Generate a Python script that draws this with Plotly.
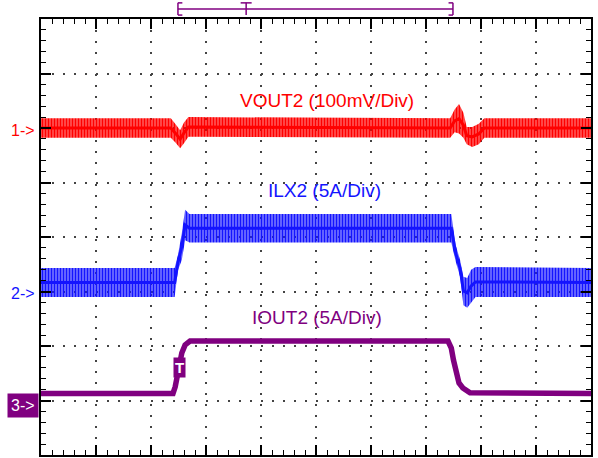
import plotly.graph_objects as go

# Screen units: 10 horizontal divisions, 8 vertical divisions
X_DIVS = 10
Y_DIVS = 8

RED = "#ff0000"
BLUE = "#1414ff"
PURPLE = "#800080"

# VOUT2 (100mV/Div): ripple envelope, in divisions
vout_t = [0, 2.36, 2.44, 2.53, 2.60, 2.68, 7.44, 7.52, 7.60, 7.68, 7.74, 7.84, 7.96, 8.06, 10]
vout_hi = [6.18, 6.18, 6.08, 5.96, 6.10, 6.20, 6.18, 6.34, 6.44, 6.28, 6.02, 6.02, 6.08, 6.18, 6.18]
vout_lo = [5.82, 5.82, 5.74, 5.63, 5.72, 5.84, 5.82, 5.92, 5.90, 5.82, 5.70, 5.65, 5.70, 5.82, 5.82]

# ILX2 (5A/Div): ripple envelope, in divisions
ilx_t = [0, 2.43, 2.49, 2.56, 2.62, 2.70, 7.46, 7.54, 7.62, 7.68, 7.75, 7.82, 7.90, 10]
ilx_hi = [3.43, 3.43, 3.67, 4.07, 4.50, 4.42, 4.42, 3.85, 3.58, 3.27, 3.25, 3.40, 3.45, 3.43]
ilx_lo = [2.90, 2.90, 3.39, 3.58, 3.94, 3.90, 3.90, 3.55, 3.27, 2.75, 2.70, 2.80, 2.90, 2.90]

# IOUT2 (5A/Div): load step, in divisions
iout_t = [0, 2.40, 2.44, 2.49, 2.56, 2.62, 2.71, 7.40, 7.46, 7.50, 7.56, 7.60, 7.67, 7.80, 10]
iout_y = [1.13, 1.13, 1.25, 1.50, 1.87, 2.02, 2.09, 2.09, 1.96, 1.74, 1.47, 1.32, 1.23, 1.14, 1.13]

# Channel reference markers (level in divisions)
ref_labels = ["1->", "2->", "3->"]
ref_levels = [5.96, 2.97, 0.90]
ref_colors = [RED, BLUE, PURPLE]

# Channel captions
captions = ["VOUT2 (100mV/Div)", "ILX2 (5A/Div)", "IOUT2 (5A/Div)"]
caption_x = [5.2, 5.16, 5.02]
caption_y = [6.51, 4.86, 2.53]
caption_colors = [RED, BLUE, PURPLE]

# Trigger point and record-position bar (paper units along the top)
trig_t, trig_y = 2.51, 1.61
bar_start, bar_trig, bar_end = 0.249, 0.373, 0.749

fig = go.Figure()


def ripple_band(t, hi, lo, color, tint, core_w):
    fig.add_trace(go.Scatter(x=t, y=lo, mode="lines", line=dict(width=0),
                             hoverinfo="skip"))
    fig.add_trace(go.Scatter(
        x=t, y=hi, mode="lines", line=dict(width=0), fill="tonexty",
        fillcolor=tint,
        fillpattern=dict(shape="|", fgcolor=color, fgopacity=1,
                         size=3, solidity=0.6),
        hoverinfo="skip"))
    mid = [(a + b) / 2 for a, b in zip(hi, lo)]
    fig.add_trace(go.Scatter(x=t, y=mid, mode="lines",
                             line=dict(color=color, width=core_w),
                             hoverinfo="skip"))


ripple_band(vout_t, vout_hi, vout_lo, RED, "rgba(255,0,0,0.55)", 3)
ripple_band(ilx_t, ilx_hi, ilx_lo, BLUE, "rgba(20,20,255,0.45)", 3)

fig.add_trace(go.Scatter(x=iout_t, y=iout_y, mode="lines",
                         line=dict(color=PURPLE, width=5.5), hoverinfo="skip"))

font = "Arial, Liberation Sans, sans-serif"

for text, x, y, c in zip(captions, caption_x, caption_y, caption_colors):
    fig.add_annotation(x=x, y=y, text=text, showarrow=False,
                       font=dict(family=font, size=19, color=c))

for text, y, c in zip(ref_labels, ref_levels, ref_colors):
    boxed = c == PURPLE
    fig.add_annotation(
        xref="paper", x=-0.003, y=y, text=text, showarrow=False,
        xanchor="right", yanchor="middle",
        font=dict(family=font, size=16, color="white" if boxed else c),
        bgcolor=c if boxed else None, borderpad=3)

# Trigger marker on the load-current step
fig.add_annotation(x=trig_t, y=trig_y, text="<b>T</b>", showarrow=False,
                   font=dict(family=font, size=15, color="white"),
                   bgcolor=PURPLE, borderpad=1)

# Record-position bar above the graticule
ytop, ymid, ybot = 1.037, 1.023, 1.009
bar = dict(type="line", xref="paper", yref="paper",
           line=dict(color=PURPLE, width=1.5))
fig.add_shape(**bar, x0=bar_start, x1=bar_end, y0=ymid, y1=ymid)
fig.add_shape(**bar, x0=bar_start, x1=bar_start, y0=ytop, y1=ybot)
fig.add_shape(**bar, x0=bar_start, x1=bar_start + 0.008, y0=ytop, y1=ytop)
fig.add_shape(**bar, x0=bar_start, x1=bar_start + 0.008, y0=ybot, y1=ybot)
fig.add_shape(**bar, x0=bar_end, x1=bar_end, y0=ytop, y1=ybot)
fig.add_shape(**bar, x0=bar_end - 0.008, x1=bar_end, y0=ytop, y1=ytop)
fig.add_shape(**bar, x0=bar_end - 0.008, x1=bar_end, y0=ybot, y1=ybot)
fig.add_shape(**bar, x0=bar_trig, x1=bar_trig, y0=ytop, y1=ybot)
fig.add_shape(**bar, x0=bar_trig - 0.01, x1=bar_trig + 0.01, y0=ytop, y1=ytop)

graticule = dict(
    showline=True, linecolor="black", linewidth=2, mirror="allticks",
    ticks="inside", ticklen=10, tickwidth=1.5, tickcolor="black",
    dtick=1, tick0=0, showticklabels=False, zeroline=False,
    showgrid=True, gridcolor="#444444", gridwidth=2, griddash="2px,9px",
    minor=dict(ticks="inside", ticklen=5, tickwidth=1.2, tickcolor="black",
               dtick=0.2, showgrid=False),
    fixedrange=True,
)

fig.update_xaxes(range=[0, X_DIVS], **graticule)
fig.update_yaxes(range=[0, Y_DIVS], **graticule)

fig.update_layout(
    width=598, height=458,
    margin=dict(l=41, r=7, t=19, b=3),
    plot_bgcolor="white", paper_bgcolor="white",
    showlegend=False, hovermode=False,
)

fig.write_html("out.html")
